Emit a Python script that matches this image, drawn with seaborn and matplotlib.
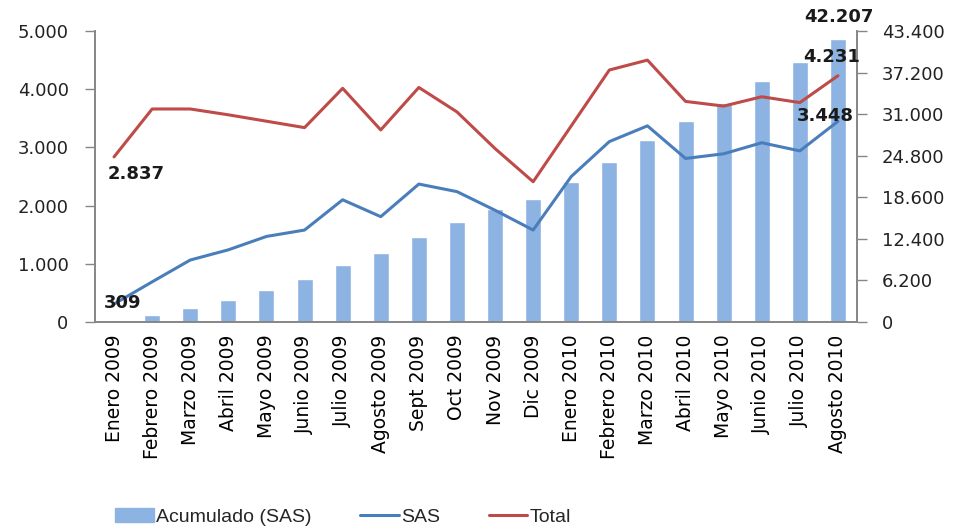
import numpy as np
import pandas as pd
import matplotlib
matplotlib.use("Agg")
import matplotlib.pyplot as plt
import seaborn as sns
from matplotlib.ticker import FixedLocator, FuncFormatter

# Data
meses = ['Enero 2009', 'Febrero 2009', 'Marzo 2009', 'Abril 2009', 'Mayo 2009',
         'Junio 2009', 'Julio 2009', 'Agosto 2009', 'Sept 2009', 'Oct 2009',
         'Nov 2009', 'Dic 2009', 'Enero 2010', 'Febrero 2010', 'Marzo 2010',
         'Abril 2010', 'Mayo 2010', 'Junio 2010', 'Julio 2010', 'Agosto 2010']
acumulado = [309, 1000, 2050, 3290, 4760, 6340, 8500, 10280, 12650, 14850,
             16800, 18300, 20850, 23850, 27100, 30050, 32650, 36000, 38800, 42207]
sas = [309, 690, 1065, 1240, 1470, 1580, 2100, 1810, 2370, 2240,
       1920, 1580, 2500, 3100, 3370, 2810, 2890, 3080, 2940, 3448]
total = [2837, 3660, 3660, 3560, 3450, 3340, 4015, 3300, 4030, 3610,
         2980, 2410, 3370, 4330, 4500, 3790, 3710, 3870, 3770, 4231]

left_ticks = [0, 1000, 2000, 3000, 4000, 5000]
right_ticks = [0, 6200, 12400, 18600, 24800, 31000, 37200, 43400]

df = pd.DataFrame({'mes': meses, 'acumulado': acumulado, 'sas': sas, 'total': total})

bar_color = '#8DB3E2'
sas_color = '#4A7EBB'
total_color = '#BE4B48'
spine_color = '#868686'

sns.set_style('white')
plt.rcParams['font.family'] = ['DejaVu Sans']

fig = plt.figure(figsize=(9.56, 5.29), dpi=100)
ax = fig.add_axes([95 / 956, 1 - 322 / 529, 762 / 956, 291 / 529])
ax2 = ax.twinx()

# bars on the right scale
sns.barplot(data=df, x='mes', y='acumulado', color=bar_color, width=0.42,
            saturation=1, ax=ax2, label='Acumulado (SAS)', legend=False)

# lines on the left scale
sns.lineplot(data=df, x='mes', y='sas', color=sas_color, linewidth=2.2,
             sort=False, ax=ax, label='SAS', legend=False)
sns.lineplot(data=df, x='mes', y='total', color=total_color, linewidth=2.2,
             sort=False, ax=ax, label='Total', legend=False)

ax.set_zorder(ax2.get_zorder() + 1)
ax.patch.set_visible(False)

fmt = FuncFormatter(lambda v, p: f"{int(v):,}".replace(',', '.'))

ax.set_xlim(-0.5, len(meses) - 0.5)
ax.set_ylim(0, 5000)
ax2.set_ylim(0, 43400)
ax.yaxis.set_major_locator(FixedLocator(left_ticks))
ax2.yaxis.set_major_locator(FixedLocator(right_ticks))
ax.yaxis.set_major_formatter(fmt)
ax2.yaxis.set_major_formatter(fmt)

ax.set_xticks(range(len(meses)))
ax.set_xticklabels(meses, rotation=90)
ax.set_xticks(np.arange(-0.5, len(meses), 1), minor=True)
ax.tick_params(axis='x', which='major', length=0, pad=9, labelsize=13.5, colors='black')
ax.tick_params(axis='x', which='minor', length=7, width=1, color=spine_color, direction='out')
ax.tick_params(axis='y', length=7, width=1, color=spine_color, pad=12, labelsize=13, labelcolor='#222222', left=True)
ax2.tick_params(axis='y', length=7, width=1, color=spine_color, pad=11, labelsize=13, labelcolor='#222222', right=True)
ax2.tick_params(axis='x', bottom=False, labelbottom=False)

for a in (ax, ax2):
    a.set_xlabel('')
    a.set_ylabel('')
    a.spines['top'].set_visible(False)
    for s in ['left', 'right', 'bottom']:
        a.spines[s].set_color(spine_color)
        a.spines[s].set_linewidth(1.2)

# data labels
lab_kw = dict(textcoords='offset pixels', ha='center', va='center',
              fontsize=13, fontweight='bold', color='#1a1a1a')
ax.annotate('309', xy=(0, sas[0]), xytext=(9, 1), **lab_kw)
ax.annotate('2.837', xy=(0, total[0]), xytext=(22, -17), **lab_kw)
ax.annotate('3.448', xy=(19, sas[-1]), xytext=(-13, 5), **lab_kw)
ax.annotate('4.231', xy=(19, total[-1]), xytext=(-6, 19), **lab_kw)
ax2.annotate('42.207', xy=(19, acumulado[-1]), xytext=(1, 22), annotation_clip=False, **lab_kw)

# legend
handles = [plt.Rectangle((0, 0), 1, 1, color=bar_color),
           plt.Line2D([0], [0], color=sas_color, lw=2.2),
           plt.Line2D([0], [0], color=total_color, lw=2.2)]
fig.legend(handles, ['Acumulado (SAS)', 'SAS', 'Total'], loc='center',
           bbox_to_anchor=(343 / 956, 1 - 517 / 529), ncol=3, frameon=False,
           prop={'family': 'Liberation Sans', 'size': 14},
           handlelength=2.0, handletextpad=0.1, columnspacing=2.5)

fig.savefig('out.png', dpi=100)
